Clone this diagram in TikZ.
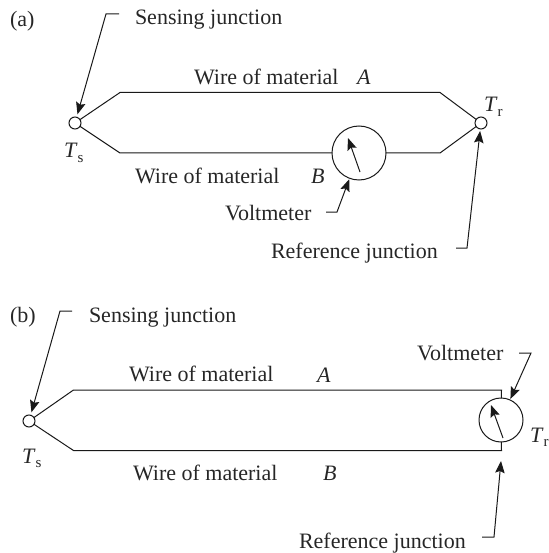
\documentclass[tikz,border=0pt]{standalone}
\usepackage{fontspec}
\setmainfont{Liberation Serif}
\usetikzlibrary{arrows.meta}
\tikzset{
  lbl/.style={anchor=base west,inner sep=0pt,outer sep=0pt,font=\fontsize{22}{24}\selectfont,text=black!85},
  junc/.style={circle,draw=black!90,fill=white,line width=1pt,minimum size=12pt,inner sep=0pt,outer sep=0pt},
  meter/.style={circle,draw=black!90,line width=1pt,inner sep=0pt,outer sep=0pt},
  wire/.style={draw=black!90,line width=1pt,line join=miter},
  arr/.style={draw=black!90,line width=1pt,-{Stealth[length=12pt,width=9.5pt,inset=2pt]}},
}
\newcommand{\subs}[2]{\textit{#1}\raisebox{-4.5pt}{\fontsize{15}{16}\selectfont #2}}
\begin{document}
\begin{tikzpicture}[x=1pt,y=-1pt]
\useasboundingbox (0,0) rectangle (548,553);
% ---------- (a)
\node[lbl] (tagA) at (10,27) {(a)};
\node[lbl] (senseA) at (135,25) {Sensing junction};
\node[lbl] (wireAa) at (194,85) {Wire of material};
\node[lbl] (matAa) at (357,85) {\textit{A}};
\node[lbl] (wireBa) at (135,183) {Wire of material};
\node[lbl] (matBa) at (311,183) {\textit{B}};
\node[lbl] (voltA) at (225,220) {Voltmeter};
\node[lbl] (refA) at (271,258) {Reference junction};
\node[lbl] (tsA) at (64,158) {\subs{T}{s}};
\node[lbl] (trA) at (484,112) {\subs{T}{r}};
\node[junc] (j1) at (75,123) {};
\node[junc] (j2) at (481,123) {};
\node[meter,minimum size=54pt] (m1) at (359,153) {};
\coordinate (a1) at (120,92.5);
\coordinate (a2) at (440,92.5);
\coordinate (a3) at (120,153);
\coordinate (a4) at (440,153);
\draw[wire] (j1) -- (a1) -- (a2) -- (j2);
\draw[wire] (j1) -- (a3) -- (m1);
\draw[wire] (m1) -- (a4) -- (j2);
\coordinate (n1t) at (360,172);
\coordinate (n1h) at (348,138);
\draw[arr] (n1t) -- (n1h);
\coordinate (s1a) at (119,14);
\coordinate (s1b) at (106,14);
\draw[arr,shorten >=3pt] (s1a) -- (s1b) -- (j1);
\coordinate (v1a) at (326,212);
\coordinate (v1b) at (337,212);
\draw[arr,shorten >=1pt] (v1a) -- (v1b) -- (m1);
\coordinate (r1a) at (456,248);
\coordinate (r1b) at (467,248);
\draw[arr,shorten >=2pt] (r1a) -- (r1b) -- (j2);
% ---------- (b)
\node[lbl] (tagB) at (10,322) {(b)};
\node[lbl] (senseB) at (89,322) {Sensing junction};
\node[lbl] (wireAb) at (129,381) {Wire of material};
\node[lbl] (matAb) at (317,382) {\textit{A}};
\node[lbl] (wireBb) at (133,480) {Wire of material};
\node[lbl] (matBb) at (323,480) {\textit{B}};
\node[lbl] (voltB) at (417,360) {Voltmeter};
\node[lbl] (refB) at (299,548) {Reference junction};
\node[lbl] (tsB) at (22,463) {\subs{T}{s}};
\node[lbl] (trB) at (530,442) {\subs{T}{r}};
\node[junc] (j3) at (29,421) {};
\node[meter,minimum size=44pt] (m2) at (501,420) {};
\coordinate (b1) at (73.5,390);
\coordinate (b2) at (501.5,390);
\coordinate (b3) at (73.5,450.5);
\coordinate (b4) at (501.5,450.5);
\draw[wire] (j3) -- (b1) -- (b2) -- (m2);
\draw[wire] (j3) -- (b3) -- (b4) -- (m2);
\coordinate (n2t) at (503,438);
\coordinate (n2h) at (491,405);
\draw[arr] (n2t) -- (n2h);
\coordinate (s2a) at (72,311);
\coordinate (s2b) at (60,311);
\draw[arr,shorten >=3pt] (s2a) -- (s2b) -- (j3);
\coordinate (v2a) at (519,353);
\coordinate (v2b) at (531,353);
\draw[arr,shorten >=1pt] (v2a) -- (v2b) -- (m2);
\coordinate (r2a) at (482,537);
\coordinate (r2b) at (494,537);
\coordinate (r2c) at (501,461);
\draw[arr] (r2a) -- (r2b) -- (r2c);
\end{tikzpicture}
\end{document}
